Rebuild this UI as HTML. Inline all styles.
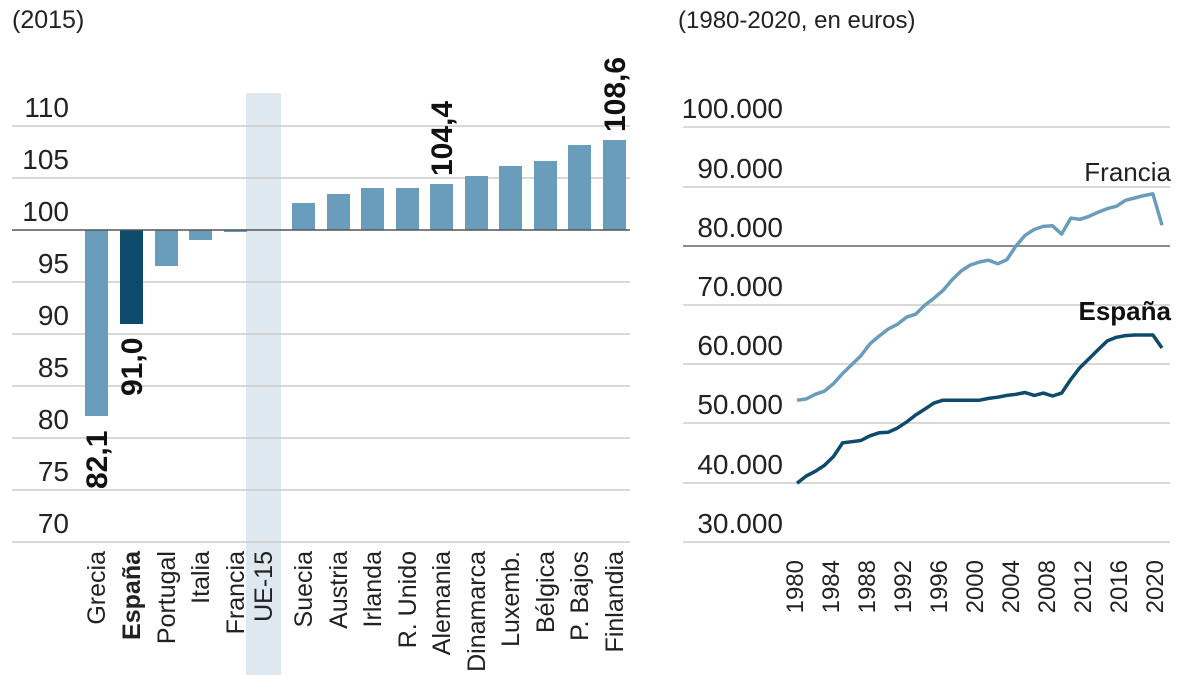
<!DOCTYPE html>
<html><head><meta charset="utf-8"><style>
html,body{margin:0;padding:0;background:#fff;}
svg{display:block;font-family:"Liberation Sans",sans-serif;}
</style></head><body>
<svg width="1199" height="675" viewBox="0 0 1199 675" xmlns="http://www.w3.org/2000/svg">
<text x="12" y="28" font-size="25" fill="#222">(2015)</text>
<text x="678" y="28" font-size="24" fill="#222">(1980-2020, en euros)</text>
<rect x="246" y="93" width="35" height="582" fill="#dde8f0"/>
<g stroke="#ccc" stroke-width="1.5">
<line x1="12" x2="630" y1="126" y2="126"/><line x1="12" x2="630" y1="178" y2="178"/>
<line x1="12" x2="630" y1="282" y2="282"/><line x1="12" x2="630" y1="334" y2="334"/>
<line x1="12" x2="630" y1="386" y2="386"/><line x1="12" x2="630" y1="438" y2="438"/>
<line x1="12" x2="630" y1="490" y2="490"/><line x1="12" x2="630" y1="542" y2="542"/>
</g>
<g font-size="28" fill="#222" text-anchor="end">
<text x="69" y="117">110</text><text x="69" y="169">105</text><text x="69" y="221">100</text>
<text x="69" y="273">95</text><text x="69" y="325">90</text><text x="69" y="377">85</text>
<text x="69" y="429">80</text><text x="69" y="481">75</text><text x="69" y="533">70</text>
</g>
<g fill="#6a9cbb">
<rect x="85" y="230" width="23" height="186"/>
<rect x="120" y="230" width="23" height="94" fill="#0d4a6b"/>
<rect x="155" y="230" width="23" height="36"/>
<rect x="189" y="230" width="23" height="10"/>
<rect x="224" y="230" width="23" height="2"/>
<rect x="292" y="203" width="23" height="27"/>
<rect x="327" y="194" width="23" height="36"/>
<rect x="361" y="188" width="23" height="42"/>
<rect x="396" y="188" width="23" height="42"/>
<rect x="430" y="184" width="23" height="46"/>
<rect x="465" y="176" width="23" height="54"/>
<rect x="499" y="166" width="23" height="64"/>
<rect x="534" y="161" width="23" height="69"/>
<rect x="568" y="145" width="23" height="85"/>
<rect x="603" y="140" width="23" height="90"/>
</g>
<line x1="12" x2="630" y1="230" y2="230" stroke="#555" stroke-width="1.5"/>
<g font-size="30" font-weight="bold" fill="#111">
<text transform="translate(107,489) rotate(-90)">82,1</text>
<text transform="translate(142,396) rotate(-90)">91,0</text>
<text transform="translate(452,176) rotate(-90)">104,4</text>
<text transform="translate(625,132) rotate(-90)">108,6</text>
</g>
<g font-size="25" fill="#222" text-anchor="end">
<text transform="translate(105,551) rotate(-90)">Grecia</text>
<text transform="translate(140,551) rotate(-90)" font-weight="bold">España</text>
<text transform="translate(175,551) rotate(-90)">Portugal</text>
<text transform="translate(209,551) rotate(-90)">Italia</text>
<text transform="translate(244,551) rotate(-90)">Francia</text>
<text transform="translate(272,551) rotate(-90)">UE-15</text>
<text transform="translate(312,551) rotate(-90)">Suecia</text>
<text transform="translate(347,551) rotate(-90)">Austria</text>
<text transform="translate(381,551) rotate(-90)">Irlanda</text>
<text transform="translate(416,551) rotate(-90)">R. Unido</text>
<text transform="translate(450,551) rotate(-90)">Alemania</text>
<text transform="translate(485,551) rotate(-90)">Dinamarca</text>
<text transform="translate(519,551) rotate(-90)">Luxemb.</text>
<text transform="translate(554,551) rotate(-90)">Bélgica</text>
<text transform="translate(588,551) rotate(-90)">P. Bajos</text>
<text transform="translate(623,551) rotate(-90)">Finlandia</text>
</g>
<g stroke="#ccc" stroke-width="1.5">
<line x1="683" x2="1170" y1="127" y2="127"/><line x1="683" x2="1170" y1="187" y2="187"/>
<line x1="683" x2="1170" y1="305" y2="305"/><line x1="683" x2="1170" y1="364" y2="364"/>
<line x1="683" x2="1170" y1="423" y2="423"/><line x1="683" x2="1170" y1="483" y2="483"/>
<line x1="683" x2="1170" y1="542" y2="542"/>
</g>
<line x1="683" x2="1170" y1="246" y2="246" stroke="#666" stroke-width="1.5"/>
<g font-size="28" fill="#222" text-anchor="end">
<text x="783" y="118">100.000</text><text x="783" y="178">90.000</text><text x="783" y="237">80.000</text>
<text x="783" y="296">70.000</text><text x="783" y="355">60.000</text><text x="783" y="414">50.000</text>
<text x="783" y="474">40.000</text><text x="783" y="533">30.000</text>
</g>
<text x="1171" y="181" font-size="26" fill="#222" text-anchor="end">Francia</text>
<text x="1171" y="320" font-size="26" font-weight="bold" fill="#111" text-anchor="end">España</text>
<polyline fill="none" stroke="#6a9cbb" stroke-width="3.5" stroke-linejoin="round" points="797,400.2 806.1,399 815.3,394.3 824.4,391.2 833.5,383.6 842.6,373.5 851.8,364.6 860.9,355.7 870,343.8 879.1,336.1 888.3,329 897.4,324.3 906.5,317.2 915.6,314.2 924.8,305.3 933.9,298.2 943,290.5 952.1,279.8 961.3,270.9 970.4,265 979.5,262 988.6,260.2 997.8,263.8 1006.9,259.6 1016,246 1025.1,235.3 1034.3,229.4 1043.4,226.4 1052.5,225.8 1061.6,234.1 1070.8,218.1 1079.9,219.3 1089,216.4 1098.1,212.2 1107.3,208.6 1116.4,206.3 1125.5,200.3 1134.6,198 1143.8,195.6 1152.9,193.8 1162,225.2"/>
<polyline fill="none" stroke="#0d4a6b" stroke-width="3.5" stroke-linejoin="round" points="797,483.2 806.1,476.1 815.3,471.3 824.4,465.4 833.5,456.5 842.6,442.9 851.8,441.7 860.9,440.5 870,435.8 879.1,432.8 888.3,432.2 897.4,428.1 906.5,422.1 915.6,415 924.8,409.1 933.9,403.1 943,400.2 952.1,400.2 961.3,400.2 970.4,400.2 979.5,400.2 988.6,398.4 997.8,397.2 1006.9,395.4 1016,394.3 1025.1,392.5 1034.3,395.4 1043.4,393.1 1052.5,396 1061.6,393.1 1070.8,379.4 1079.9,367.6 1089,358.7 1098.1,349.8 1107.3,340.9 1116.4,337.3 1125.5,335.6 1134.6,335 1143.8,335 1152.9,335 1162,348"/>
<g font-size="24" fill="#222" text-anchor="end">
<text transform="translate(803,560) rotate(-90)">1980</text>
<text transform="translate(839,560) rotate(-90)">1984</text>
<text transform="translate(875,560) rotate(-90)">1988</text>
<text transform="translate(911,560) rotate(-90)">1992</text>
<text transform="translate(947,560) rotate(-90)">1996</text>
<text transform="translate(983,560) rotate(-90)">2000</text>
<text transform="translate(1019,560) rotate(-90)">2004</text>
<text transform="translate(1055,560) rotate(-90)">2008</text>
<text transform="translate(1091,560) rotate(-90)">2012</text>
<text transform="translate(1127,560) rotate(-90)">2016</text>
<text transform="translate(1163,560) rotate(-90)">2020</text>
</g>
</svg>
</body></html>
